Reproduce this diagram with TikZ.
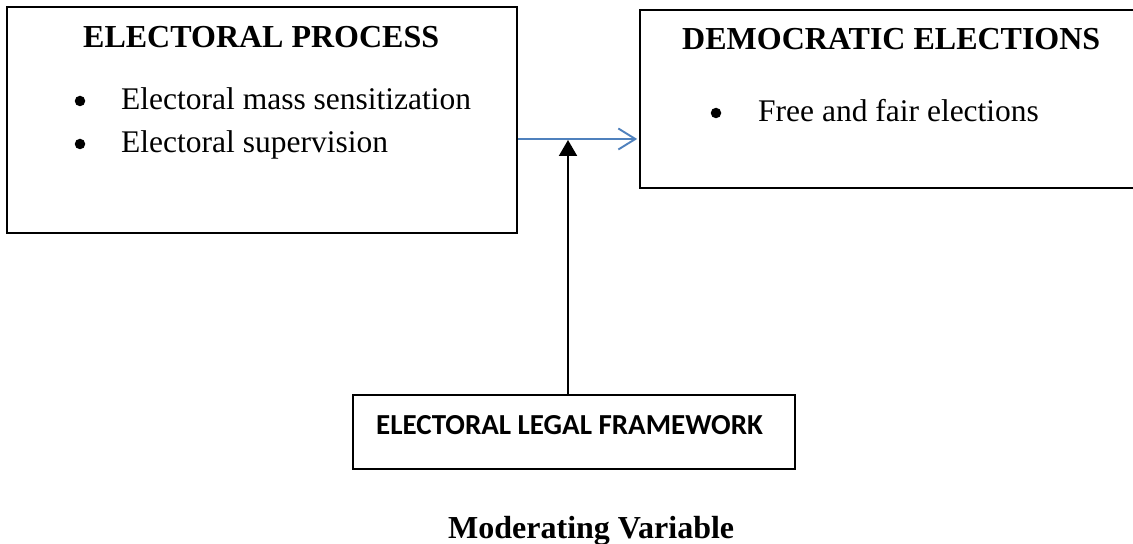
\documentclass[tikz,border=0pt]{standalone}
\usepackage{fontspec}
\setmainfont{Liberation Serif}
\newfontfamily\calibri{Carlito}
\usetikzlibrary{arrows.meta}
\definecolor{arrowblue}{HTML}{4F81BD}
\begin{document}
\begin{tikzpicture}[x=1bp,y=-1bp]
\tikzset{
  boxframe/.style={draw=black, line width=1.7bp, rectangle, inner sep=0pt},
  headtxt/.style={font=\fontsize{32bp}{38bp}\selectfont\bfseries, anchor=base west, inner sep=0pt},
  itemtxt/.style={font=\fontsize{31.5bp}{38bp}\selectfont, anchor=base west, inner sep=0pt},
  bullettxt/.style={circle, fill=black, inner sep=0pt, minimum size=10.5bp},
  flowarrow/.style={draw=arrowblue, line width=1.9bp, -{Straight Barb[length=17bp,width=21bp,line width=1.9bp]}},
  modarrow/.style={draw=black, line width=2bp, -{Triangle[length=16bp,width=18bp]}}
}
\clip (0,0) rectangle (1133,544);
\fill[white] (0,0) rectangle (1133,544);
% boxes
\node[boxframe, minimum width=510bp, minimum height=226bp] (ep) at (262,120) {};
\node[boxframe, minimum width=500bp, minimum height=178bp] (de) at (890,99) {};
\node[boxframe, minimum width=442bp, minimum height=74bp] (lf) at (574,432) {};
% texts box 1
\node[headtxt] (eph) at (83,48) {ELECTORAL PROCESS};
\node[bullettxt] (b1) at (80,101) {};
\node[itemtxt] (i1) at (121,110) {Electoral mass sensitization};
\node[bullettxt] (b2) at (80,144) {};
\node[itemtxt] (i2) at (121,153) {Electoral supervision};
% texts box 2
\node[headtxt] (deh) at (682,50) {DEMOCRATIC ELECTIONS};
\node[bullettxt] (b3) at (716,113) {};
\node[itemtxt] (i3) at (758,122) {Free and fair elections};
% box 3
\node[font=\calibri\fontsize{29bp}{34bp}\selectfont\bfseries, anchor=base west, inner sep=0pt] (lft) at (376,434) {ELECTORAL LEGAL FRAMEWORK};
% caption
\node[headtxt] (cap) at (448,538) {Moderating Variable};
% connectors
\coordinate (meet) at (568,140);
\coordinate (rowy) at (0,139);
\draw[flowarrow] (ep.east |- rowy) -- ([xshift=-2bp]de.west |- rowy);
\draw[modarrow] (lf.north -| meet) -- (meet);
\end{tikzpicture}
\end{document}
